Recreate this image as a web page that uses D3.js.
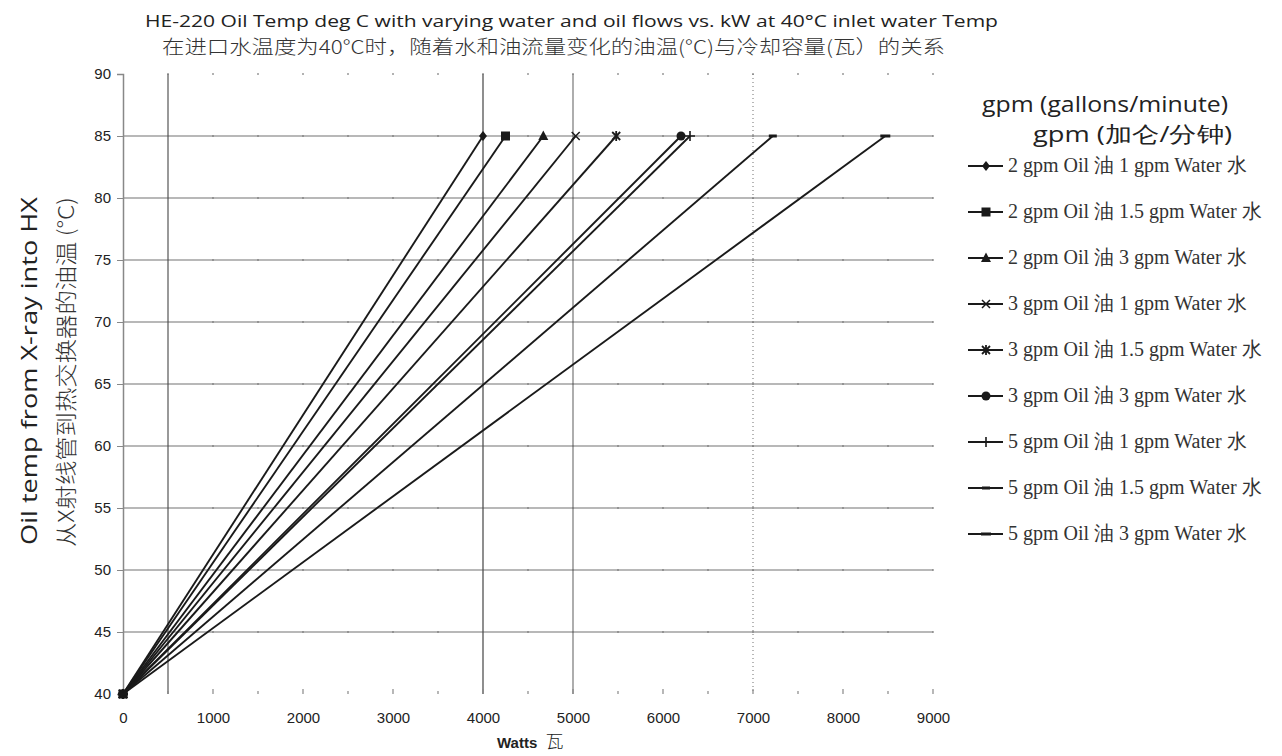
<!DOCTYPE html>
<html>
<head>
<meta charset="utf-8">
<script src="https://cdn.jsdelivr.net/npm/d3@7"></script>
<style>
  body { margin: 0; background: #fff; }
  svg { display: block; }
</style>
</head>
<body>
<div id="visual"></div>
<script>
// series names (legend order)
const categories = [
  "2 gpm Oil 油 1 gpm Water 水",
  "2 gpm Oil 油 1.5 gpm Water 水",
  "2 gpm Oil 油 3 gpm Water 水",
  "3 gpm Oil 油 1 gpm Water 水",
  "3 gpm Oil 油 1.5 gpm Water 水",
  "3 gpm Oil 油 3 gpm Water 水",
  "5 gpm Oil 油 1 gpm Water 水",
  "5 gpm Oil 油 1.5 gpm Water 水",
  "5 gpm Oil 油 3 gpm Water 水"
];
// each series runs from (startWatts, startTemp) to (endWatts, endTemp)
const startWatts = [0, 0, 0, 0, 0, 0, 0, 0, 0];
const endWatts = [4000, 4250, 4670, 5030, 5480, 6200, 6300, 7220, 8470];
const startTemp = 40;
const endTemp = 85;
const markers = ["diamond", "square", "triangle", "times", "asterisk", "circle", "plus", "dash", "dashWide"];

const xTicks = [0, 1000, 2000, 3000, 4000, 5000, 6000, 7000, 8000, 9000];
const yTicks = [40, 45, 50, 55, 60, 65, 70, 75, 80, 85, 90];
const minorStep = 500;
// the odd vertical rules that are visible in the original
const vRules = [
  {w: 500, color: "#555", dash: null},
  {w: 4000, color: "#444", dash: null},
  {w: 5000, color: "#777", dash: null},
  {w: 7000, color: "#888", dash: "1,3"}
];

const W = 1282, H = 756;
const plot = {left: 123, right: 933, top: 74, bottom: 694};

const svg = d3.select("#visual").append("svg")
  .attr("width", W).attr("height", H);

const x = d3.scaleLinear().domain([0, 9000]).range([plot.left, plot.right]);
const y = d3.scaleLinear().domain([40, 90]).range([plot.bottom, plot.top]);

// horizontal grid lines (not at 40 / 90)
svg.append("g")
  .selectAll("line")
  .data(yTicks.filter(d => d > 40 && d < 90))
  .enter().append("line")
  .attr("x1", plot.left).attr("x2", plot.right)
  .attr("y1", d => y(d)).attr("y2", d => y(d))
  .attr("stroke", "#a0a0a0").attr("stroke-width", 1.6);

// vertical rules
svg.append("g")
  .selectAll("line")
  .data(vRules)
  .enter().append("line")
  .attr("x1", d => x(d.w)).attr("x2", d => x(d.w))
  .attr("y1", plot.top).attr("y2", plot.bottom)
  .attr("stroke", d => d.color)
  .attr("stroke-width", 1.2)
  .attr("stroke-dasharray", d => d.dash);

// little dots on the grid at each 500 W
const minorW = d3.range(minorStep, 9001, minorStep);
const dotRows = yTicks.filter(d => d > 40);
const dots = [];
dotRows.forEach(t => minorW.forEach(w => dots.push({w, t})));
svg.append("g")
  .selectAll("rect")
  .data(dots)
  .enter().append("rect")
  .attr("x", d => x(d.w) - 0.7).attr("y", d => y(d.t) - 0.8)
  .attr("width", 1.4).attr("height", 1.6)
  .attr("fill", "#777");

// y axis
const yAxis = d3.axisLeft(y).tickValues(yTicks).tickSize(6).tickPadding(6);
const gy = svg.append("g").attr("transform", `translate(${plot.left},0)`).call(yAxis);
gy.select(".domain").attr("stroke", "#888").attr("stroke-width", 1.5);
gy.selectAll(".tick line").attr("stroke", "#888");
gy.selectAll(".tick text")
  .attr("font-family", "Liberation Sans, Arial, sans-serif")
  .attr("font-size", 15).attr("fill", "#222");

// x axis: ticks only, the baseline is missing in the original
const xAxis = d3.axisBottom(x).tickValues(xTicks).tickFormat(d3.format("d")).tickSize(0).tickPadding(18);
const gx = svg.append("g").attr("transform", `translate(0,${plot.bottom})`).call(xAxis);
gx.select(".domain").remove();
gx.selectAll(".tick text")
  .attr("font-family", "Liberation Sans, Arial, sans-serif")
  .attr("font-size", 15).attr("fill", "#222");
svg.append("g")
  .selectAll("line")
  .data(d3.range(minorStep, 9001, minorStep))
  .enter().append("line")
  .attr("x1", d => x(d)).attr("x2", d => x(d))
  .attr("y1", plot.bottom).attr("y2", d => plot.bottom - (d % 1000 === 0 ? 5 : 3))
  .attr("stroke", "#888").attr("stroke-width", 1.2);

// series
const series = categories.map((name, i) => ({
  name,
  marker: markers[i],
  points: [{w: startWatts[i], t: startTemp}, {w: endWatts[i], t: endTemp}]
}));

const line = d3.line().x(d => x(d.w)).y(d => y(d.t));

svg.append("g")
  .selectAll("path")
  .data(series)
  .enter().append("path")
  .attr("d", d => line(d.points))
  .attr("fill", "none")
  .attr("stroke", "#1a1a1a")
  .attr("stroke-width", 1.9);

function drawMarker(g, type) {
  const ink = "#1a1a1a";
  if (type === "diamond") {
    g.append("path").attr("d", "M0,-5L4,0L0,5L-4,0Z").attr("fill", ink);
  } else if (type === "square") {
    g.append("rect").attr("x", -4.5).attr("y", -4.5).attr("width", 9).attr("height", 9).attr("fill", ink);
  } else if (type === "triangle") {
    g.append("path").attr("d", "M0,-5.5L5,4L-5,4Z").attr("fill", ink);
  } else if (type === "times") {
    g.append("path").attr("d", "M-4,-4L4,4M-4,4L4,-4").attr("stroke", ink).attr("stroke-width", 1.5);
  } else if (type === "asterisk") {
    g.append("path").attr("d", "M-4,-4L4,4M-4,4L4,-4M0,-5L0,5").attr("stroke", ink).attr("stroke-width", 1.8);
  } else if (type === "circle") {
    g.append("circle").attr("r", 4.5).attr("fill", ink);
  } else if (type === "plus") {
    g.append("path").attr("d", "M-5,0L5,0M0,-5L0,5").attr("stroke", ink).attr("stroke-width", 1.6);
  } else if (type === "dash") {
    g.append("rect").attr("x", -4).attr("y", -1.5).attr("width", 8).attr("height", 3).attr("fill", ink);
  } else if (type === "dashWide") {
    g.append("rect").attr("x", -5).attr("y", -1.5).attr("width", 10).attr("height", 3).attr("fill", ink);
  }
}

series.forEach(s => {
  s.points.forEach(p => {
    const g = svg.append("g").attr("transform", `translate(${x(p.w)},${y(p.t)})`);
    drawMarker(g, s.marker);
  });
});

// titles
svg.append("text")
  .attr("x", 145).attr("y", 27)
  .attr("font-family", "Open Sans, sans-serif").attr("font-size", 17)
  .attr("fill", "#222")
  .attr("textLength", 853).attr("lengthAdjust", "spacingAndGlyphs")
  .text("HE-220 Oil Temp deg C with varying water and oil flows vs. kW at 40°C inlet water Temp");
svg.append("text")
  .attr("x", 162).attr("y", 54)
  .attr("font-family", "Noto Sans CJK SC, sans-serif").attr("font-size", 19)
  .attr("font-weight", 300)
  .attr("fill", "#333")
  .attr("textLength", 783).attr("lengthAdjust", "spacingAndGlyphs")
  .text("在进口水温度为40°C时，随着水和油流量变化的油温(°C)与冷却容量(瓦）的关系");

// y axis title
svg.append("text")
  .attr("transform", "translate(28,371) rotate(-90)")
  .attr("text-anchor", "middle").attr("dominant-baseline", "central")
  .attr("font-family", "Open Sans, sans-serif").attr("font-size", 22)
  .attr("fill", "#222")
  .attr("textLength", 348).attr("lengthAdjust", "spacingAndGlyphs")
  .text("Oil temp from X-ray into HX");
svg.append("text")
  .attr("transform", "translate(64,372) rotate(-90)")
  .attr("text-anchor", "middle").attr("dominant-baseline", "central")
  .attr("font-family", "Noto Sans CJK SC, sans-serif").attr("font-size", 22)
  .attr("font-weight", 300)
  .attr("fill", "#333")
  .attr("textLength", 350).attr("lengthAdjust", "spacingAndGlyphs")
  .text("从X射线管到热交换器的油温 (°C)");

// x axis title
const xt = svg.append("text")
  .attr("x", 497).attr("y", 748)
  .attr("font-family", "Liberation Sans, Arial, sans-serif")
  .attr("fill", "#222");
xt.append("tspan").attr("font-weight", "bold").attr("font-size", 15).text("Watts ");
xt.append("tspan").attr("font-family", "Noto Sans CJK SC, sans-serif").attr("font-weight", 300)
  .attr("font-size", 18).attr("dx", 4).text("瓦");

// legend
svg.append("text")
  .attr("x", 982).attr("y", 112)
  .attr("font-family", "Open Sans, sans-serif").attr("font-size", 22)
  .attr("fill", "#222")
  .attr("textLength", 246).attr("lengthAdjust", "spacingAndGlyphs")
  .text("gpm (gallons/minute)");
svg.append("text")
  .attr("x", 1033).attr("y", 142)
  .attr("font-family", "Open Sans, sans-serif").attr("font-size", 22)
  .attr("fill", "#222")
  .attr("textLength", 199).attr("lengthAdjust", "spacingAndGlyphs")
  .text("gpm (加仑/分钟)");

const legend = svg.append("g")
  .selectAll("g")
  .data(series)
  .enter().append("g")
  .attr("transform", (d, i) => `translate(968,${166 + i * 46})`);
legend.append("line")
  .attr("x1", 0).attr("x2", 35).attr("y1", 0).attr("y2", 0)
  .attr("stroke", "#1a1a1a").attr("stroke-width", 2);
legend.each(function(d) {
  const g = d3.select(this).append("g").attr("transform", "translate(18,0)");
  drawMarker(g, d.marker);
});
legend.append("text")
  .attr("x", 40).attr("y", 6)
  .attr("font-family", "Liberation Serif, serif").attr("font-size", 20)
  .attr("fill", "#333")
  .text(d => d.name);
</script>
</body>
</html>
